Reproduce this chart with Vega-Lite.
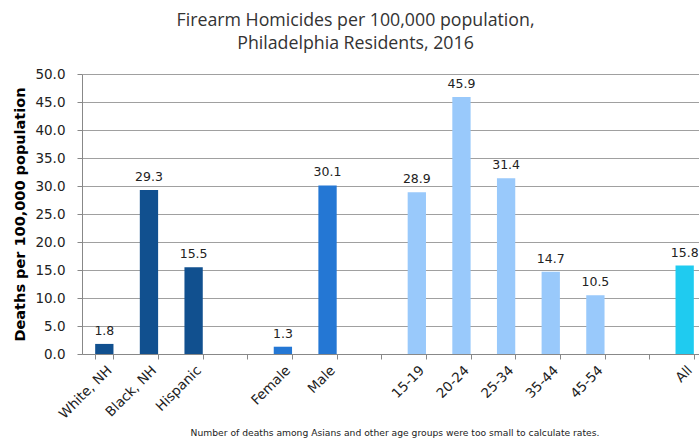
{
  "$schema": "https://vega.github.io/schema/vega-lite/v6.json",
  "width": 625,
  "height": 280,
  "autosize": {"type": "none"},
  "padding": {"left": 82, "top": 74, "right": 0, "bottom": 84},
  "background": "white",
  "config": {
    "font": "DejaVu Sans",
    "view": {"stroke": null}
  },
  "title": {
    "text": ["Firearm Homicides per 100,000 population,", "Philadelphia Residents, 2016"],
    "font": "Open Sans",
    "fontSize": 17.75,
    "fontWeight": "normal",
    "color": "#333333",
    "lineHeight": 23,
    "anchor": "middle",
    "dx": -39,
    "offset": 14
  },
  "data": {
    "values": [
      {"category": "White, NH", "group": "Race", "rate": 1.8},
      {"category": "Black, NH", "group": "Race", "rate": 29.3},
      {"category": "Hispanic", "group": "Race", "rate": 15.5},
      {"category": "Female", "group": "Sex", "rate": 1.3},
      {"category": "Male", "group": "Sex", "rate": 30.1},
      {"category": "15-19", "group": "Age", "rate": 28.9},
      {"category": "20-24", "group": "Age", "rate": 45.9},
      {"category": "25-34", "group": "Age", "rate": 31.4},
      {"category": "35-44", "group": "Age", "rate": 14.7},
      {"category": "45-54", "group": "Age", "rate": 10.5},
      {"category": "All", "group": "All", "rate": 15.8}
    ]
  },
  "layer": [
    {
      "mark": {"type": "bar"},
      "encoding": {
        "x": {
          "field": "category",
          "type": "nominal",
          "sort": null,
          "scale": {
            "domain": ["White, NH", "Black, NH", "Hispanic", " ", "Female", "Male", "  ", "15-19", "20-24", "25-34", "35-44", "45-54", "   ", "All"],
            "paddingInner": 0.59,
            "paddingOuter": 0.295
          },
          "axis": {
            "title": "Number of deaths among Asians and other age groups were too small  to calculate  rates.",
            "titleFont": "DejaVu Sans",
            "titleFontSize": 9.2,
            "titleFontWeight": "normal",
            "titleColor": "#222222",
            "titlePadding": 8,
            "labelAngle": -45,
            "labelFontSize": 13.5,
            "labelColor": "#222222",
            "labelPadding": 4,
            "tickBand": "extent",
            "tickColor": "#888888",
            "tickSize": 5,
            "domainColor": "#888888",
            "grid": false
          }
        },
        "y": {
          "field": "rate",
          "type": "quantitative",
          "scale": {"domain": [0, 50], "nice": false},
          "axis": {
            "title": "Deaths per 100,000  population",
            "titleFontSize": 14.5,
            "titleFontWeight": "bold",
            "titleColor": "#000000",
            "titlePadding": 7,
            "tickCount": 10,
            "format": ".1f",
            "labelFontSize": 13.5,
            "labelColor": "#222222",
            "labelPadding": 12,
            "tickColor": "#888888",
            "tickSize": 5,
            "domainColor": "#888888",
            "gridColor": "#a0a0a0",
            "gridWidth": 1
          }
        },
        "color": {
          "field": "group",
          "type": "nominal",
          "scale": {"domain": ["Race", "Sex", "Age", "All"], "range": ["#11508f", "#2477d4", "#99c9fb", "#1fcbf0"]},
          "legend": null
        }
      }
    },
    {
      "mark": {"type": "text", "dy": -13, "fontSize": 12.5, "color": "#222222"},
      "encoding": {
        "x": {"field": "category", "type": "nominal", "sort": null},
        "y": {"field": "rate", "type": "quantitative"},
        "text": {"field": "rate", "type": "quantitative"}
      }
    }
  ]
}
